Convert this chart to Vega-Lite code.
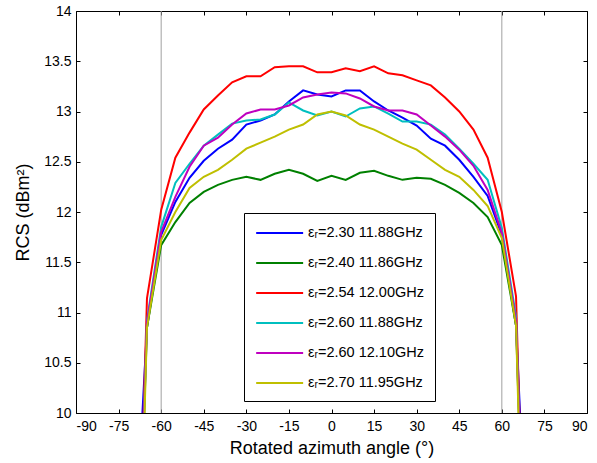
{
  "$schema": "https://vega.github.io/schema/vega-lite/v6.json",
  "width": 511,
  "height": 402,
  "autosize": {"type": "none"},
  "padding": {"left": 76, "top": 11, "right": 10, "bottom": 50},
  "background": "white",
  "config": {
    "font": "Liberation Sans",
    "view": {"stroke": "black", "strokeWidth": 1},
    "axis": {
      "grid": false,
      "domain": false,
      "offset": -4,
      "tickColor": "black",
      "tickWidth": 1,
      "tickSize": 4,
      "labelColor": "black",
      "titleColor": "black",
      "labelFont": "Liberation Sans",
      "titleFont": "Liberation Sans",
      "labelFontSize": 14,
      "titleFontSize": 18,
      "titleFontWeight": "normal"
    },
    "legend": {
      "orient": "none",
      "legendX": 168,
      "legendY": 202,
      "padding": 11,
      "strokeColor": "black",
      "fillColor": "white",
      "cornerRadius": 0,
      "symbolType": "M-1,0H5",
      "symbolSize": 245,
      "symbolStrokeWidth": 2,
      "labelOffset": 35,
      "labelFont": "Liberation Sans",
      "labelFontSize": 14.5,
      "labelColor": "black",
      "rowPadding": 14,
      "title": null
    }
  },
  "datasets": {
    "guides": [{"angle": -60}, {"angle": 60}],
    "rcs": [
      {"angle": -70, "series": "εᵣ=2.30 11.88GHz", "rcs": 8.2},
      {"angle": -65, "series": "εᵣ=2.30 11.88GHz", "rcs": 10.85},
      {"angle": -60, "series": "εᵣ=2.30 11.88GHz", "rcs": 11.77},
      {"angle": -55, "series": "εᵣ=2.30 11.88GHz", "rcs": 12.10},
      {"angle": -50, "series": "εᵣ=2.30 11.88GHz", "rcs": 12.34},
      {"angle": -45, "series": "εᵣ=2.30 11.88GHz", "rcs": 12.51},
      {"angle": -40, "series": "εᵣ=2.30 11.88GHz", "rcs": 12.63},
      {"angle": -35, "series": "εᵣ=2.30 11.88GHz", "rcs": 12.72},
      {"angle": -30, "series": "εᵣ=2.30 11.88GHz", "rcs": 12.87},
      {"angle": -25, "series": "εᵣ=2.30 11.88GHz", "rcs": 12.91},
      {"angle": -20, "series": "εᵣ=2.30 11.88GHz", "rcs": 12.97},
      {"angle": -15, "series": "εᵣ=2.30 11.88GHz", "rcs": 13.10},
      {"angle": -10, "series": "εᵣ=2.30 11.88GHz", "rcs": 13.21},
      {"angle": -5, "series": "εᵣ=2.30 11.88GHz", "rcs": 13.17},
      {"angle": 0, "series": "εᵣ=2.30 11.88GHz", "rcs": 13.15},
      {"angle": 5, "series": "εᵣ=2.30 11.88GHz", "rcs": 13.21},
      {"angle": 10, "series": "εᵣ=2.30 11.88GHz", "rcs": 13.21},
      {"angle": 15, "series": "εᵣ=2.30 11.88GHz", "rcs": 13.10},
      {"angle": 20, "series": "εᵣ=2.30 11.88GHz", "rcs": 13.01},
      {"angle": 25, "series": "εᵣ=2.30 11.88GHz", "rcs": 12.94},
      {"angle": 30, "series": "εᵣ=2.30 11.88GHz", "rcs": 12.86},
      {"angle": 35, "series": "εᵣ=2.30 11.88GHz", "rcs": 12.73},
      {"angle": 40, "series": "εᵣ=2.30 11.88GHz", "rcs": 12.66},
      {"angle": 45, "series": "εᵣ=2.30 11.88GHz", "rcs": 12.52},
      {"angle": 50, "series": "εᵣ=2.30 11.88GHz", "rcs": 12.35},
      {"angle": 55, "series": "εᵣ=2.30 11.88GHz", "rcs": 12.16},
      {"angle": 60, "series": "εᵣ=2.30 11.88GHz", "rcs": 11.77},
      {"angle": 65, "series": "εᵣ=2.30 11.88GHz", "rcs": 10.87},
      {"angle": 70, "series": "εᵣ=2.30 11.88GHz", "rcs": 7.8},

      {"angle": -70, "series": "εᵣ=2.40 11.86GHz", "rcs": 6.5},
      {"angle": -65, "series": "εᵣ=2.40 11.86GHz", "rcs": 10.85},
      {"angle": -60, "series": "εᵣ=2.40 11.86GHz", "rcs": 11.67},
      {"angle": -55, "series": "εᵣ=2.40 11.86GHz", "rcs": 11.90},
      {"angle": -50, "series": "εᵣ=2.40 11.86GHz", "rcs": 12.09},
      {"angle": -45, "series": "εᵣ=2.40 11.86GHz", "rcs": 12.20},
      {"angle": -40, "series": "εᵣ=2.40 11.86GHz", "rcs": 12.27},
      {"angle": -35, "series": "εᵣ=2.40 11.86GHz", "rcs": 12.32},
      {"angle": -30, "series": "εᵣ=2.40 11.86GHz", "rcs": 12.35},
      {"angle": -25, "series": "εᵣ=2.40 11.86GHz", "rcs": 12.32},
      {"angle": -20, "series": "εᵣ=2.40 11.86GHz", "rcs": 12.38},
      {"angle": -15, "series": "εᵣ=2.40 11.86GHz", "rcs": 12.42},
      {"angle": -10, "series": "εᵣ=2.40 11.86GHz", "rcs": 12.38},
      {"angle": -5, "series": "εᵣ=2.40 11.86GHz", "rcs": 12.31},
      {"angle": 0, "series": "εᵣ=2.40 11.86GHz", "rcs": 12.36},
      {"angle": 5, "series": "εᵣ=2.40 11.86GHz", "rcs": 12.32},
      {"angle": 10, "series": "εᵣ=2.40 11.86GHz", "rcs": 12.39},
      {"angle": 15, "series": "εᵣ=2.40 11.86GHz", "rcs": 12.41},
      {"angle": 20, "series": "εᵣ=2.40 11.86GHz", "rcs": 12.36},
      {"angle": 25, "series": "εᵣ=2.40 11.86GHz", "rcs": 12.32},
      {"angle": 30, "series": "εᵣ=2.40 11.86GHz", "rcs": 12.34},
      {"angle": 35, "series": "εᵣ=2.40 11.86GHz", "rcs": 12.33},
      {"angle": 40, "series": "εᵣ=2.40 11.86GHz", "rcs": 12.27},
      {"angle": 45, "series": "εᵣ=2.40 11.86GHz", "rcs": 12.19},
      {"angle": 50, "series": "εᵣ=2.40 11.86GHz", "rcs": 12.09},
      {"angle": 55, "series": "εᵣ=2.40 11.86GHz", "rcs": 11.95},
      {"angle": 60, "series": "εᵣ=2.40 11.86GHz", "rcs": 11.67},
      {"angle": 65, "series": "εᵣ=2.40 11.86GHz", "rcs": 10.87},
      {"angle": 70, "series": "εᵣ=2.40 11.86GHz", "rcs": 6.5},

      {"angle": -70, "series": "εᵣ=2.54 12.00GHz", "rcs": 6.3},
      {"angle": -65, "series": "εᵣ=2.54 12.00GHz", "rcs": 11.14},
      {"angle": -60, "series": "εᵣ=2.54 12.00GHz", "rcs": 12.02},
      {"angle": -55, "series": "εᵣ=2.54 12.00GHz", "rcs": 12.54},
      {"angle": -50, "series": "εᵣ=2.54 12.00GHz", "rcs": 12.79},
      {"angle": -45, "series": "εᵣ=2.54 12.00GHz", "rcs": 13.02},
      {"angle": -40, "series": "εᵣ=2.54 12.00GHz", "rcs": 13.16},
      {"angle": -35, "series": "εᵣ=2.54 12.00GHz", "rcs": 13.29},
      {"angle": -30, "series": "εᵣ=2.54 12.00GHz", "rcs": 13.35},
      {"angle": -25, "series": "εᵣ=2.54 12.00GHz", "rcs": 13.35},
      {"angle": -20, "series": "εᵣ=2.54 12.00GHz", "rcs": 13.44},
      {"angle": -15, "series": "εᵣ=2.54 12.00GHz", "rcs": 13.45},
      {"angle": -10, "series": "εᵣ=2.54 12.00GHz", "rcs": 13.45},
      {"angle": -5, "series": "εᵣ=2.54 12.00GHz", "rcs": 13.39},
      {"angle": 0, "series": "εᵣ=2.54 12.00GHz", "rcs": 13.39},
      {"angle": 5, "series": "εᵣ=2.54 12.00GHz", "rcs": 13.43},
      {"angle": 10, "series": "εᵣ=2.54 12.00GHz", "rcs": 13.40},
      {"angle": 15, "series": "εᵣ=2.54 12.00GHz", "rcs": 13.45},
      {"angle": 20, "series": "εᵣ=2.54 12.00GHz", "rcs": 13.38},
      {"angle": 25, "series": "εᵣ=2.54 12.00GHz", "rcs": 13.36},
      {"angle": 30, "series": "εᵣ=2.54 12.00GHz", "rcs": 13.31},
      {"angle": 35, "series": "εᵣ=2.54 12.00GHz", "rcs": 13.26},
      {"angle": 40, "series": "εᵣ=2.54 12.00GHz", "rcs": 13.14},
      {"angle": 45, "series": "εᵣ=2.54 12.00GHz", "rcs": 13.00},
      {"angle": 50, "series": "εᵣ=2.54 12.00GHz", "rcs": 12.82},
      {"angle": 55, "series": "εᵣ=2.54 12.00GHz", "rcs": 12.54},
      {"angle": 60, "series": "εᵣ=2.54 12.00GHz", "rcs": 12.00},
      {"angle": 65, "series": "εᵣ=2.54 12.00GHz", "rcs": 11.16},
      {"angle": 70, "series": "εᵣ=2.54 12.00GHz", "rcs": 6.3},

      {"angle": -70, "series": "εᵣ=2.60 11.88GHz", "rcs": 6.5},
      {"angle": -65, "series": "εᵣ=2.60 11.88GHz", "rcs": 10.92},
      {"angle": -60, "series": "εᵣ=2.60 11.88GHz", "rcs": 11.85},
      {"angle": -55, "series": "εᵣ=2.60 11.88GHz", "rcs": 12.29},
      {"angle": -50, "series": "εᵣ=2.60 11.88GHz", "rcs": 12.48},
      {"angle": -45, "series": "εᵣ=2.60 11.88GHz", "rcs": 12.66},
      {"angle": -40, "series": "εᵣ=2.60 11.88GHz", "rcs": 12.77},
      {"angle": -35, "series": "εᵣ=2.60 11.88GHz", "rcs": 12.88},
      {"angle": -30, "series": "εᵣ=2.60 11.88GHz", "rcs": 12.91},
      {"angle": -25, "series": "εᵣ=2.60 11.88GHz", "rcs": 12.92},
      {"angle": -20, "series": "εᵣ=2.60 11.88GHz", "rcs": 12.97},
      {"angle": -15, "series": "εᵣ=2.60 11.88GHz", "rcs": 13.09},
      {"angle": -10, "series": "εᵣ=2.60 11.88GHz", "rcs": 13.01},
      {"angle": -5, "series": "εᵣ=2.60 11.88GHz", "rcs": 12.96},
      {"angle": 0, "series": "εᵣ=2.60 11.88GHz", "rcs": 13.00},
      {"angle": 5, "series": "εᵣ=2.60 11.88GHz", "rcs": 12.95},
      {"angle": 10, "series": "εᵣ=2.60 11.88GHz", "rcs": 13.03},
      {"angle": 15, "series": "εᵣ=2.60 11.88GHz", "rcs": 13.05},
      {"angle": 20, "series": "εᵣ=2.60 11.88GHz", "rcs": 12.98},
      {"angle": 25, "series": "εᵣ=2.60 11.88GHz", "rcs": 12.90},
      {"angle": 30, "series": "εᵣ=2.60 11.88GHz", "rcs": 12.90},
      {"angle": 35, "series": "εᵣ=2.60 11.88GHz", "rcs": 12.87},
      {"angle": 40, "series": "εᵣ=2.60 11.88GHz", "rcs": 12.77},
      {"angle": 45, "series": "εᵣ=2.60 11.88GHz", "rcs": 12.63},
      {"angle": 50, "series": "εᵣ=2.60 11.88GHz", "rcs": 12.48},
      {"angle": 55, "series": "εᵣ=2.60 11.88GHz", "rcs": 12.32},
      {"angle": 60, "series": "εᵣ=2.60 11.88GHz", "rcs": 11.84},
      {"angle": 65, "series": "εᵣ=2.60 11.88GHz", "rcs": 10.96},
      {"angle": 70, "series": "εᵣ=2.60 11.88GHz", "rcs": 6.5},

      {"angle": -70, "series": "εᵣ=2.60 12.10GHz", "rcs": 6.5},
      {"angle": -65, "series": "εᵣ=2.60 12.10GHz", "rcs": 10.90},
      {"angle": -60, "series": "εᵣ=2.60 12.10GHz", "rcs": 11.80},
      {"angle": -55, "series": "εᵣ=2.60 12.10GHz", "rcs": 12.15},
      {"angle": -50, "series": "εᵣ=2.60 12.10GHz", "rcs": 12.45},
      {"angle": -45, "series": "εᵣ=2.60 12.10GHz", "rcs": 12.66},
      {"angle": -40, "series": "εᵣ=2.60 12.10GHz", "rcs": 12.74},
      {"angle": -35, "series": "εᵣ=2.60 12.10GHz", "rcs": 12.87},
      {"angle": -30, "series": "εᵣ=2.60 12.10GHz", "rcs": 12.98},
      {"angle": -25, "series": "εᵣ=2.60 12.10GHz", "rcs": 13.02},
      {"angle": -20, "series": "εᵣ=2.60 12.10GHz", "rcs": 13.02},
      {"angle": -15, "series": "εᵣ=2.60 12.10GHz", "rcs": 13.06},
      {"angle": -10, "series": "εᵣ=2.60 12.10GHz", "rcs": 13.14},
      {"angle": -5, "series": "εᵣ=2.60 12.10GHz", "rcs": 13.17},
      {"angle": 0, "series": "εᵣ=2.60 12.10GHz", "rcs": 13.19},
      {"angle": 5, "series": "εᵣ=2.60 12.10GHz", "rcs": 13.18},
      {"angle": 10, "series": "εᵣ=2.60 12.10GHz", "rcs": 13.13},
      {"angle": 15, "series": "εᵣ=2.60 12.10GHz", "rcs": 13.05},
      {"angle": 20, "series": "εᵣ=2.60 12.10GHz", "rcs": 13.01},
      {"angle": 25, "series": "εᵣ=2.60 12.10GHz", "rcs": 13.01},
      {"angle": 30, "series": "εᵣ=2.60 12.10GHz", "rcs": 12.97},
      {"angle": 35, "series": "εᵣ=2.60 12.10GHz", "rcs": 12.86},
      {"angle": 40, "series": "εᵣ=2.60 12.10GHz", "rcs": 12.75},
      {"angle": 45, "series": "εᵣ=2.60 12.10GHz", "rcs": 12.62},
      {"angle": 50, "series": "εᵣ=2.60 12.10GHz", "rcs": 12.46},
      {"angle": 55, "series": "εᵣ=2.60 12.10GHz", "rcs": 12.22},
      {"angle": 60, "series": "εᵣ=2.60 12.10GHz", "rcs": 11.79},
      {"angle": 65, "series": "εᵣ=2.60 12.10GHz", "rcs": 10.92},
      {"angle": 70, "series": "εᵣ=2.60 12.10GHz", "rcs": 6.5},

      {"angle": -70, "series": "εᵣ=2.70 11.95GHz", "rcs": 5.8},
      {"angle": -65, "series": "εᵣ=2.70 11.95GHz", "rcs": 10.85},
      {"angle": -60, "series": "εᵣ=2.70 11.95GHz", "rcs": 11.72},
      {"angle": -55, "series": "εᵣ=2.70 11.95GHz", "rcs": 12.00},
      {"angle": -50, "series": "εᵣ=2.70 11.95GHz", "rcs": 12.24},
      {"angle": -45, "series": "εᵣ=2.70 11.95GHz", "rcs": 12.35},
      {"angle": -40, "series": "εᵣ=2.70 11.95GHz", "rcs": 12.42},
      {"angle": -35, "series": "εᵣ=2.70 11.95GHz", "rcs": 12.52},
      {"angle": -30, "series": "εᵣ=2.70 11.95GHz", "rcs": 12.63},
      {"angle": -25, "series": "εᵣ=2.70 11.95GHz", "rcs": 12.69},
      {"angle": -20, "series": "εᵣ=2.70 11.95GHz", "rcs": 12.75},
      {"angle": -15, "series": "εᵣ=2.70 11.95GHz", "rcs": 12.82},
      {"angle": -10, "series": "εᵣ=2.70 11.95GHz", "rcs": 12.87},
      {"angle": -5, "series": "εᵣ=2.70 11.95GHz", "rcs": 12.97},
      {"angle": 0, "series": "εᵣ=2.70 11.95GHz", "rcs": 13.00},
      {"angle": 5, "series": "εᵣ=2.70 11.95GHz", "rcs": 12.96},
      {"angle": 10, "series": "εᵣ=2.70 11.95GHz", "rcs": 12.87},
      {"angle": 15, "series": "εᵣ=2.70 11.95GHz", "rcs": 12.82},
      {"angle": 20, "series": "εᵣ=2.70 11.95GHz", "rcs": 12.75},
      {"angle": 25, "series": "εᵣ=2.70 11.95GHz", "rcs": 12.68},
      {"angle": 30, "series": "εᵣ=2.70 11.95GHz", "rcs": 12.62},
      {"angle": 35, "series": "εᵣ=2.70 11.95GHz", "rcs": 12.52},
      {"angle": 40, "series": "εᵣ=2.70 11.95GHz", "rcs": 12.42},
      {"angle": 45, "series": "εᵣ=2.70 11.95GHz", "rcs": 12.35},
      {"angle": 50, "series": "εᵣ=2.70 11.95GHz", "rcs": 12.22},
      {"angle": 55, "series": "εᵣ=2.70 11.95GHz", "rcs": 12.06},
      {"angle": 60, "series": "εᵣ=2.70 11.95GHz", "rcs": 11.74},
      {"angle": 65, "series": "εᵣ=2.70 11.95GHz", "rcs": 10.87},
      {"angle": 70, "series": "εᵣ=2.70 11.95GHz", "rcs": 5.8}
    ]
  },
  "layer": [
    {
      "data": {"name": "guides"},
      "mark": {"type": "rule", "color": "#a0a0a0", "strokeWidth": 1},
      "encoding": {
        "x": {
          "field": "angle",
          "type": "quantitative",
          "scale": {"domain": [-90, 90], "nice": false, "zero": false},
          "axis": {"orient": "top", "values": [-90, -75, -60, -45, -30, -15, 0, 15, 30, 45, 60, 75, 90], "labels": false, "title": null}
        },
        "y": {
          "datum": 10,
          "type": "quantitative",
          "scale": {"domain": [10, 14], "nice": false, "zero": false},
          "axis": {"orient": "right", "values": [10, 10.5, 11, 11.5, 12, 12.5, 13, 13.5, 14], "labels": false, "title": null}
        },
        "y2": {"datum": 14}
      }
    },
    {
      "data": {"name": "rcs"},
      "mark": {"type": "line", "strokeWidth": 2, "clip": true},
      "encoding": {
        "x": {
          "field": "angle",
          "type": "quantitative",
          "scale": {"domain": [-90, 90], "nice": false, "zero": false},
          "axis": {
            "orient": "bottom",
            "values": [-90, -75, -60, -45, -30, -15, 0, 15, 30, 45, 60, 75, 90],
            "labelExpr": "'' + datum.value",
            "labelPadding": 6,
            "title": "Rotated azimuth angle (°)",
            "titleY": 39,
            "titleBaseline": "middle"
          }
        },
        "y": {
          "field": "rcs",
          "type": "quantitative",
          "scale": {"domain": [10, 14], "nice": false, "zero": false},
          "axis": {
            "orient": "left",
            "values": [10, 10.5, 11, 11.5, 12, 12.5, 13, 13.5, 14],
            "labelExpr": "'' + datum.value",
            "labelPadding": 5,
            "title": "RCS (dBm²)",
            "titleX": -57,
            "titleY": 201,
            "titleAngle": -90,
            "titleBaseline": "middle"
          }
        },
        "color": {
          "field": "series",
          "type": "nominal",
          "scale": {
            "domain": ["εᵣ=2.30 11.88GHz", "εᵣ=2.40 11.86GHz", "εᵣ=2.54 12.00GHz", "εᵣ=2.60 11.88GHz", "εᵣ=2.60 12.10GHz", "εᵣ=2.70 11.95GHz"],
            "range": ["#0000ff", "#008000", "#ff0000", "#00bfbf", "#bf00bf", "#bfbf00"]
          },
          "legend": {"title": null}
        }
      }
    }
  ],
  "resolve": {"axis": {"x": "independent", "y": "independent"}}
}
